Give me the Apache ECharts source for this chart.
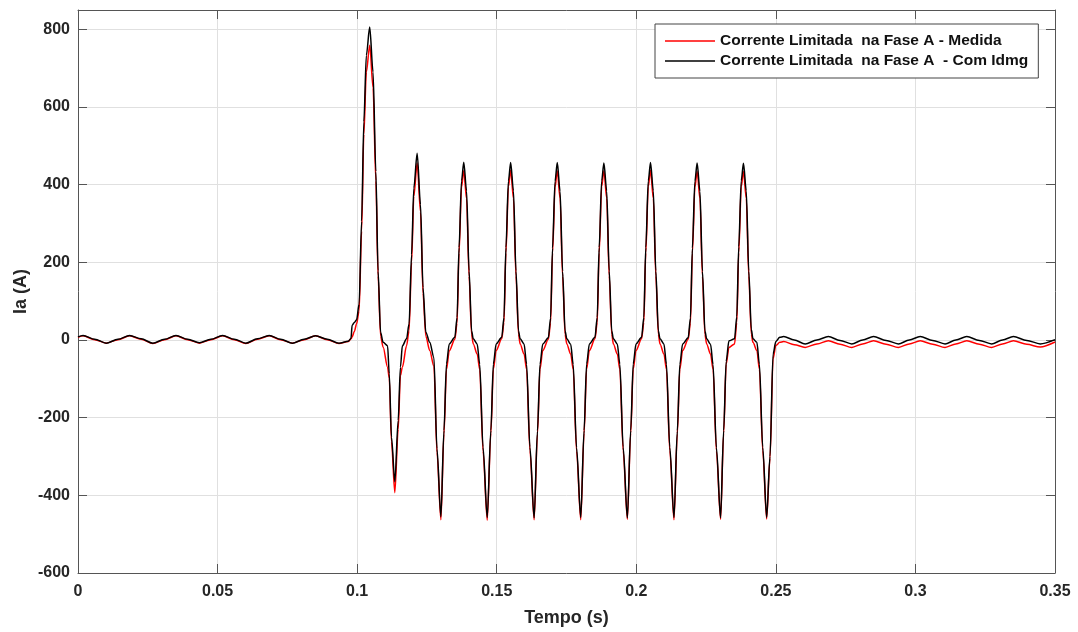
<!DOCTYPE html>
<html>
<head>
<meta charset="utf-8">
<script src="https://cdn.jsdelivr.net/npm/echarts@6/dist/echarts.min.js"></script>
<style>
html,body{margin:0;padding:0;background:#fff;}
#chart{width:1078px;height:632px;}
</style>
</head>
<body>
<div id="chart"></div>
<script>
// ---------- data ----------
const xTicks = [0, 0.05, 0.1, 0.15, 0.2, 0.25, 0.3, 0.35];
const yTicks = [-600, -400, -200, 0, 200, 400, 600, 800];
const seriesNames = ['Corrente Limitada  na Fase A - Medida', 'Corrente Limitada  na Fase A  - Com Idmg'];

// time (s)
const tempo = [
  // pre-fault (25)
  0.0000, 0.0018, 0.0060, 0.0101, 0.0143, 0.0185, 0.0226, 0.0268, 0.0310, 0.0351,
  0.0393, 0.0435, 0.0476, 0.0518, 0.0560, 0.0601, 0.0643, 0.0685, 0.0726, 0.0768,
  0.0810, 0.0851, 0.0893, 0.0935, 0.0968,
  // onset + cycle 1 (18)
  0.0978, 0.0982, 0.0990, 0.0998, 0.1007, 0.1016, 0.1024, 0.1033, 0.1045, 0.1057,
  0.1067, 0.1075, 0.1084, 0.1093, 0.1109, 0.1115, 0.1123, 0.1135,
  // cycle 2 (15)
  0.1147, 0.1155, 0.1162, 0.1177, 0.1186, 0.1195, 0.1203, 0.1215, 0.1227, 0.1236,
  0.1246, 0.1260, 0.1275, 0.1286, 0.1300,
  // cycle 3 (16)
  0.1311, 0.1320, 0.1330, 0.1350, 0.1358, 0.1365, 0.1374, 0.1382, 0.1392, 0.1401,
  0.1410, 0.1416, 0.1430, 0.1439, 0.1451, 0.1466,
  // cycle 4 (16)
  0.1479, 0.1488, 0.1498, 0.1518, 0.1526, 0.1533, 0.1542, 0.1550, 0.1560, 0.1569,
  0.1578, 0.1584, 0.1598, 0.1607, 0.1619, 0.1634,
  // cycle 5 (16)
  0.1646, 0.1655, 0.1665, 0.1685, 0.1693, 0.1700, 0.1709, 0.1717, 0.1727, 0.1736,
  0.1745, 0.1751, 0.1765, 0.1774, 0.1786, 0.1801,
  // cycle 6 (16)
  0.1813, 0.1822, 0.1832, 0.1852, 0.1860, 0.1867, 0.1876, 0.1884, 0.1894, 0.1903,
  0.1912, 0.1918, 0.1932, 0.1941, 0.1953, 0.1968,
  // cycle 7 (16)
  0.1980, 0.1989, 0.1999, 0.2019, 0.2027, 0.2034, 0.2043, 0.2051, 0.2061, 0.2070,
  0.2079, 0.2085, 0.2099, 0.2108, 0.2120, 0.2135,
  // cycle 8 (16)
  0.2147, 0.2156, 0.2166, 0.2186, 0.2194, 0.2201, 0.2210, 0.2218, 0.2228, 0.2237,
  0.2246, 0.2252, 0.2266, 0.2275, 0.2287, 0.2302,
  // cycle 9 (16)
  0.2313, 0.2322, 0.2332, 0.2352, 0.2360, 0.2367, 0.2376, 0.2384, 0.2394, 0.2403,
  0.2412, 0.2418, 0.2432, 0.2441, 0.2453, 0.2467,
  // post-fault (28)
  0.2479, 0.2490, 0.2500, 0.2514, 0.2528, 0.2566, 0.2605, 0.2647, 0.2688, 0.2730,
  0.2772, 0.2811, 0.2850, 0.2895, 0.2939, 0.2978, 0.3017, 0.3062, 0.3106, 0.3145,
  0.3184, 0.3229, 0.3273, 0.3312, 0.3351, 0.3399, 0.3447, 0.3500
];

// red: Corrente Limitada na Fase A - Medida (A)
const medida = [
  7, 11, 1, -8, 1, 11, 2, -9, 1, 11,
  1, -8, 1, 11, 1, -9, 2, 11, 1, -8,
  1, 11, 1, -9, -4,
  3, 8, 22, 42, 75, 280, 530, 690, 759, 650,
  410, 165, 10, -18, -70, -98, -262, -393,
  -230, -92, -70, -15, 24, 200, 370, 456, 330, 120,
  10, -27, -68, -290, -463,
  -242, -76, -28, 2, 44, 224, 394, 436, 364, 164,
  14, -10, -36, -76, -286, -464,
  -240, -75, -27, 3, 45, 225, 395, 437, 365, 165,
  15, -10, -36, -75, -285, -463,
  -241, -75, -27, 2, 44, 224, 394, 436, 364, 164,
  14, -10, -36, -76, -286, -463,
  -240, -75, -27, 3, 45, 225, 395, 436, 365, 165,
  15, -10, -36, -75, -285, -462,
  -240, -75, -27, 3, 45, 225, 395, 437, 365, 165,
  15, -10, -36, -75, -285, -463,
  -241, -75, -27, 2, 44, 224, 394, 435, 364, 164,
  14, -10, -36, -76, -286, -462,
  -240, -62, -19, -10, 45, 225, 395, 434, 365, 165,
  15, -6, -27, -75, -285, -461,
  -305, -48, -14, -6, -4, -12, -19, -10, -2, -11,
  -19, -10, -2, -11, -19, -10, -2, -11, -19, -10,
  -2, -11, -19, -10, -2, -11, -18, -5
];

// black: Corrente Limitada na Fase A - Com Idmg (A)
const comIdmg = [
  8, 12, 2, -8, 2, 12, 3, -8, 2, 12,
  2, -7, 2, 12, 2, -8, 3, 12, 2, -8,
  2, 11, 2, -8, -3,
  4, 38, 45, 52, 92, 306, 562, 733, 806, 690,
  434, 178, 20, -6, -15, -87, -250, -365,
  -207, -70, -15, 3, 41, 220, 391, 481, 349, 135,
  20, -6, -45, -280, -455,
  -233, -62, -10, 7, 58, 238, 410, 458, 384, 178,
  24, 3, -10, -62, -276, -457,
  -233, -62, -10, 7, 58, 238, 410, 457, 384, 178,
  24, 3, -10, -62, -276, -458,
  -234, -63, -10, 6, 57, 237, 409, 457, 383, 177,
  23, 3, -11, -63, -277, -457,
  -233, -62, -10, 7, 58, 238, 410, 456, 384, 178,
  24, 3, -10, -62, -276, -458,
  -233, -62, -10, 7, 58, 238, 410, 457, 384, 178,
  24, 3, -10, -62, -276, -457,
  -234, -63, -10, 6, 57, 237, 409, 456, 383, 177,
  23, 3, -11, -63, -277, -458,
  -233, -55, -2, 3, 60, 240, 410, 455, 384, 178,
  28, 3, -6, -62, -276, -457,
  -300, -36, -4, 7, 9, 0, -10, 0, 9, -1,
  -10, 0, 9, -1, -10, 0, 9, -1, -10, 0,
  9, -1, -10, 0, 9, -1, -10, 1
];

// ---------- chart ----------
const FONT = "'Liberation Sans', Arial, Helvetica, sans-serif";
const AXIS_COLOR = '#555555';
const TEXT_COLOR = '#262626';
const GRID_COLOR = '#e0e0e0';

const chart = echarts.init(document.getElementById('chart'), null, {renderer: 'canvas'});

function fmtX(v) { return String(Math.round(v * 100) / 100); }
function fmtY(v) { return yTicks.indexOf(Math.round(v)) >= 0 ? String(Math.round(v)) : ''; }

const commonTick = {show: true, inside: true, length: 9, lineStyle: {color: AXIS_COLOR, width: 1}};
const commonLine = {show: true, onZero: false, lineStyle: {color: AXIS_COLOR, width: 1}};

const option = {
  animation: false,
  backgroundColor: '#ffffff',
  grid: {left: 78, right: 23, top: 10, bottom: 58, containLabel: false},
  legend: {
    orient: 'vertical',
    left: 655,
    top: 24,
    icon: 'rect',
    itemWidth: 50,
    itemHeight: 1.5,
    itemGap: 0,
    padding: [7, 10, 7, 10],
    backgroundColor: '#ffffff',
    borderColor: '#444444',
    borderWidth: 1,
    data: seriesNames,
    textStyle: {fontFamily: FONT, fontSize: 15.5, fontWeight: 'bold', color: '#111111', lineHeight: 20}
  },
  xAxis: [
    {
      type: 'value', min: xTicks[0], max: xTicks[xTicks.length - 1], interval: 0.05,
      position: 'bottom',
      axisLine: commonLine,
      axisTick: commonTick,
      axisLabel: {color: TEXT_COLOR, fontFamily: FONT, fontSize: 16, fontWeight: 'bold', margin: 11, formatter: fmtX},
      splitLine: {show: true, lineStyle: {color: GRID_COLOR, width: 1}},
      name: 'Tempo (s)', nameLocation: 'middle', nameGap: 36,
      nameTextStyle: {color: TEXT_COLOR, fontFamily: FONT, fontSize: 18, fontWeight: 'bold'}
    },
    {
      type: 'value', min: xTicks[0], max: xTicks[xTicks.length - 1], interval: 0.05,
      position: 'top',
      axisLine: commonLine,
      axisTick: commonTick,
      axisLabel: {show: false},
      splitLine: {show: false}
    }
  ],
  yAxis: [
    {
      type: 'value', min: -600, max: 850, interval: 200,
      position: 'left',
      axisLine: commonLine,
      axisTick: commonTick,
      axisLabel: {color: TEXT_COLOR, fontFamily: FONT, fontSize: 16, fontWeight: 'bold', margin: 8, showMaxLabel: false, formatter: fmtY},
      splitLine: {show: true, lineStyle: {color: GRID_COLOR, width: 1}},
      name: 'Ia (A)', nameLocation: 'middle', nameGap: 48, nameMoveOverlap: false,
      nameTextStyle: {color: TEXT_COLOR, fontFamily: FONT, fontSize: 18, fontWeight: 'bold'}
    },
    {
      type: 'value', min: -600, max: 850, interval: 200,
      position: 'right',
      axisLine: commonLine,
      axisTick: commonTick,
      axisLabel: {show: false},
      splitLine: {show: false}
    }
  ],
  series: [
    {
      name: seriesNames[0],
      type: 'line',
      xAxisIndex: 0, yAxisIndex: 0,
      data: tempo.map((t, i) => [t, medida[i]]),
      showSymbol: false, symbol: 'none',
      smooth: 0.3, smoothMonotone: 'x',
      lineStyle: {color: '#ff0000', width: 1.5},
      itemStyle: {color: '#ff0000'},
      z: 2
    },
    {
      name: seriesNames[1],
      type: 'line',
      xAxisIndex: 0, yAxisIndex: 0,
      data: tempo.map((t, i) => [t, comIdmg[i]]),
      showSymbol: false, symbol: 'none',
      smooth: 0.3, smoothMonotone: 'x',
      lineStyle: {color: '#000000', width: 1.5},
      itemStyle: {color: '#000000'},
      z: 3
    }
  ]
};
chart.setOption(option);
</script>
</body>
</html>
